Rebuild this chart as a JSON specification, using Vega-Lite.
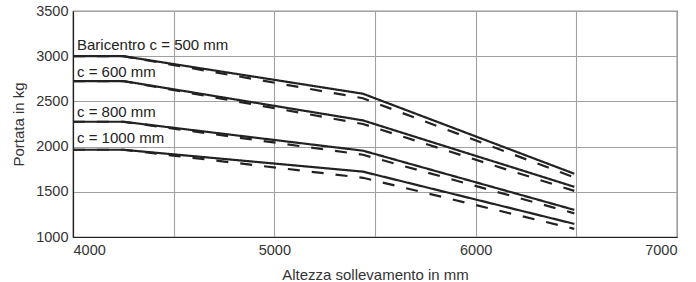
{
  "$schema": "https://vega.github.io/schema/vega-lite/v6.json",
  "width": 604,
  "height": 226,
  "autosize": {"type": "none"},
  "padding": {"left": 73, "top": 11, "right": 19, "bottom": 45},
  "config": {
    "font": "Liberation Sans",
    "view": {"stroke": "#333333", "strokeWidth": 1.2},
    "axis": {
      "labelFont": "Liberation Sans", "labelFontSize": 14.5, "labelColor": "#333333",
      "titleFont": "Liberation Sans", "titleFontSize": 15, "titleColor": "#333333", "titleFontWeight": "normal",
      "gridColor": "#a0a0a0", "gridWidth": 1.1, "gridOpacity": 1,
      "domainColor": "#222222", "domainWidth": 1.2, "ticks": false
    }
  },
  "datasets": {
    "curves": [
      {"h": 4000, "kg": 3000, "c": "500", "tipo": "continua", "s": "500-continua"},
      {"h": 4250, "kg": 3000, "c": "500", "tipo": "continua", "s": "500-continua"},
      {"h": 5440, "kg": 2585, "c": "500", "tipo": "continua", "s": "500-continua"},
      {"h": 6490, "kg": 1700, "c": "500", "tipo": "continua", "s": "500-continua"},
      {"h": 4000, "kg": 3000, "c": "500", "tipo": "tratteggiata", "s": "500-tratteggiata"},
      {"h": 4250, "kg": 3000, "c": "500", "tipo": "tratteggiata", "s": "500-tratteggiata"},
      {"h": 5440, "kg": 2535, "c": "500", "tipo": "tratteggiata", "s": "500-tratteggiata"},
      {"h": 6490, "kg": 1660, "c": "500", "tipo": "tratteggiata", "s": "500-tratteggiata"},
      {"h": 4000, "kg": 2725, "c": "600", "tipo": "continua", "s": "600-continua"},
      {"h": 4250, "kg": 2725, "c": "600", "tipo": "continua", "s": "600-continua"},
      {"h": 5440, "kg": 2290, "c": "600", "tipo": "continua", "s": "600-continua"},
      {"h": 6490, "kg": 1555, "c": "600", "tipo": "continua", "s": "600-continua"},
      {"h": 4000, "kg": 2725, "c": "600", "tipo": "tratteggiata", "s": "600-tratteggiata"},
      {"h": 4250, "kg": 2725, "c": "600", "tipo": "tratteggiata", "s": "600-tratteggiata"},
      {"h": 5440, "kg": 2250, "c": "600", "tipo": "tratteggiata", "s": "600-tratteggiata"},
      {"h": 6490, "kg": 1510, "c": "600", "tipo": "tratteggiata", "s": "600-tratteggiata"},
      {"h": 4000, "kg": 2275, "c": "800", "tipo": "continua", "s": "800-continua"},
      {"h": 4250, "kg": 2275, "c": "800", "tipo": "continua", "s": "800-continua"},
      {"h": 5440, "kg": 1955, "c": "800", "tipo": "continua", "s": "800-continua"},
      {"h": 6490, "kg": 1300, "c": "800", "tipo": "continua", "s": "800-continua"},
      {"h": 4000, "kg": 2275, "c": "800", "tipo": "tratteggiata", "s": "800-tratteggiata"},
      {"h": 4250, "kg": 2275, "c": "800", "tipo": "tratteggiata", "s": "800-tratteggiata"},
      {"h": 5440, "kg": 1910, "c": "800", "tipo": "tratteggiata", "s": "800-tratteggiata"},
      {"h": 6490, "kg": 1262, "c": "800", "tipo": "tratteggiata", "s": "800-tratteggiata"},
      {"h": 4000, "kg": 1965, "c": "1000", "tipo": "continua", "s": "1000-continua"},
      {"h": 4250, "kg": 1965, "c": "1000", "tipo": "continua", "s": "1000-continua"},
      {"h": 5440, "kg": 1723, "c": "1000", "tipo": "continua", "s": "1000-continua"},
      {"h": 6490, "kg": 1145, "c": "1000", "tipo": "continua", "s": "1000-continua"},
      {"h": 4000, "kg": 1965, "c": "1000", "tipo": "tratteggiata", "s": "1000-tratteggiata"},
      {"h": 4250, "kg": 1965, "c": "1000", "tipo": "tratteggiata", "s": "1000-tratteggiata"},
      {"h": 5440, "kg": 1655, "c": "1000", "tipo": "tratteggiata", "s": "1000-tratteggiata"},
      {"h": 6490, "kg": 1090, "c": "1000", "tipo": "tratteggiata", "s": "1000-tratteggiata"}
    ],
    "labels": [
      {"h": 4020, "kg": 3121, "text": "Baricentro c = 500 mm"},
      {"h": 4020, "kg": 2827, "text": "c = 600 mm"},
      {"h": 4020, "kg": 2382, "text": "c = 800 mm"},
      {"h": 4020, "kg": 2095, "text": "c = 1000 mm"}
    ]
  },
  "layer": [
    {
      "data": {"name": "curves"},
      "mark": {"type": "line", "color": "#222222", "strokeWidth": 2.2},
      "encoding": {
        "x": {
          "field": "h", "type": "quantitative",
          "scale": {"domain": [4000, 7000], "nice": false},
          "axis": {
            "title": "Altezza sollevamento in mm",
            "values": [4000, 4500, 5000, 5500, 6000, 6500, 7000],
            "format": "d",
            "labelExpr": "datum.value % 1000 === 0 ? datum.label : ''",
            "labelFlush": true,
            "labelPadding": 6,
            "titlePadding": 11
          }
        },
        "y": {
          "field": "kg", "type": "quantitative",
          "scale": {"domain": [1000, 3500], "nice": false, "zero": false},
          "axis": {
            "title": "Portata in kg",
            "values": [1000, 1250, 1500, 1750, 2000, 2250, 2500, 2750, 3000, 3250, 3500],
            "format": "d",
            "labelExpr": "datum.value % 500 === 0 ? datum.label : ''",
            "labelPadding": 5,
            "titlePadding": 9
          }
        },
        "detail": {"field": "s", "type": "nominal"},
        "strokeDash": {
          "field": "tipo", "type": "nominal",
          "scale": {"domain": ["continua", "tratteggiata"], "range": [[1, 0], [12, 12]]},
          "legend": null
        }
      }
    },
    {
      "data": {"name": "labels"},
      "mark": {"type": "text", "align": "left", "baseline": "middle", "font": "Liberation Sans", "fontSize": 15, "color": "#222222"},
      "encoding": {
        "x": {"field": "h", "type": "quantitative"},
        "y": {"field": "kg", "type": "quantitative"},
        "text": {"field": "text", "type": "nominal"}
      }
    }
  ]
}
